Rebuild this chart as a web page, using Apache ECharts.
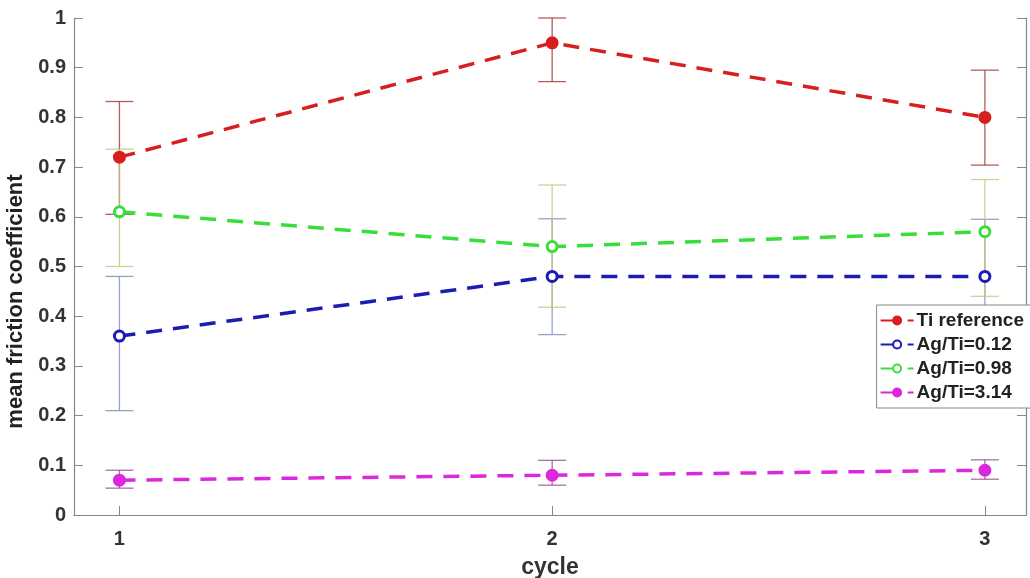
<!DOCTYPE html>
<html><head><meta charset="utf-8">
<script src="https://cdn.jsdelivr.net/npm/echarts@6/dist/echarts.min.js"></script>
<style>html,body{margin:0;padding:0;background:#fff}#c{width:1030px;height:578px}</style>
</head><body><div id="c"></div>
<script>
const cycles = [1, 2, 3];
const yTicks = [0, 0.1, 0.2, 0.3, 0.4, 0.5, 0.6, 0.7, 0.8, 0.9, 1];
const seriesNames = ['Ti reference', 'Ag/Ti=0.12', 'Ag/Ti=0.98', 'Ag/Ti=3.14'];
const tiRef = [0.72, 0.95, 0.80];
const tiRefLow = [0.605, 0.872, 0.704];
const tiRefHigh = [0.832, 1.0, 0.895];
const ag012 = [0.36, 0.48, 0.48];
const ag012Low = [0.21, 0.363, 0.363];
const ag012High = [0.48, 0.596, 0.595];
const ag098 = [0.61, 0.54, 0.57];
const ag098Low = [0.50, 0.418, 0.44];
const ag098High = [0.736, 0.664, 0.675];
const ag314 = [0.07, 0.08, 0.09];
const ag314Low = [0.054, 0.06, 0.072];
const ag314High = [0.09, 0.11, 0.111];

const colors = ['#d81e1e', '#1c1cb4', '#3ade3a', '#dc28dc'];
const barColors = ['rgba(150,40,40,0.75)', 'rgba(120,140,190,0.8)', 'rgba(190,200,120,0.8)', 'rgba(150,60,140,0.75)'];
const vals = [tiRef, ag012, ag098, ag314];
const lows = [tiRefLow, ag012Low, ag098Low, ag314Low];
const highs = [tiRefHigh, ag012High, ag098High, ag314High];
const font = 'Liberation Sans, Arial, sans-serif';

const series = [];
vals.forEach((v, i) => {
  series.push({
    type: 'custom', z: 1, silent: true, clip: false,
    data: cycles.map((c, k) => [c, lows[i][k], highs[i][k]]),
    renderItem: (params, api) => {
      const lo = api.coord([api.value(0), api.value(1)]);
      const hi = api.coord([api.value(0), api.value(2)]);
      const w = 14;
      const st = { stroke: barColors[i], lineWidth: 1.3 };
      return { type: 'group', children: [
        { type: 'line', shape: { x1: lo[0], y1: lo[1], x2: hi[0], y2: hi[1] }, style: st },
        { type: 'line', shape: { x1: lo[0] - w, y1: lo[1], x2: lo[0] + w, y2: lo[1] }, style: st },
        { type: 'line', shape: { x1: hi[0] - w, y1: hi[1], x2: hi[0] + w, y2: hi[1] }, style: st }
      ]};
    }
  });
});
vals.forEach((v, i) => {
  series.push({
    name: seriesNames[i], type: 'line', z: 5,
    data: cycles.map((c, k) => [c, v[k]]),
    symbol: 'circle', symbolSize: 10,
    itemStyle: { color: (i === 0 || i === 3) ? colors[i] : '#fff', borderColor: colors[i], borderWidth: 3 },
    lineStyle: { color: colors[i], width: 3.5, type: [16, 11] }
  });
});

const chart = echarts.init(document.getElementById('c'));
chart.setOption({
  animation: false,
  backgroundColor: '#fff',
  grid: { left: 74, right: 4, top: 18, bottom: 63, outerBoundsMode: 'none', containLabel: false },
  legend: {
    data: seriesNames, orient: 'vertical', right: -2, top: 305,
    backgroundColor: '#fff', borderColor: '#888', borderWidth: 1,
    padding: [6, 8, 6, 3], itemGap: 5, itemWidth: 33, itemHeight: 10,
    textStyle: { fontFamily: font, fontWeight: 'bold', fontSize: 19, color: '#222', padding: [0, 0, 0, -2] }
  },
  xAxis: [{
    type: 'value', min: 0.895, max: 3.095,
    name: 'cycle', nameLocation: 'middle', nameGap: 41,
    nameTextStyle: { fontFamily: font, fontWeight: 'bold', fontSize: 23, color: '#333' },
    axisLine: { lineStyle: { color: '#888', width: 1.2 } },
    axisTick: { inside: true, length: 9, customValues: cycles, lineStyle: { color: '#888' } },
    axisLabel: { customValues: cycles, margin: 14, fontFamily: font, fontWeight: 'bold', fontSize: 20, color: '#333' },
    splitLine: { show: false }
  }, {
    type: 'value', min: 0.895, max: 3.095, position: 'top',
    axisLine: { show: true, lineStyle: { color: '#888', width: 1.2 } },
    axisTick: { show: false }, axisLabel: { show: false }, splitLine: { show: false }
  }],
  yAxis: [{
    type: 'value', min: 0, max: 1, interval: 0.1,
    name: 'mean friction coefficient', nameLocation: 'middle', nameGap: 38,
    nameTextStyle: { fontFamily: font, fontWeight: 'bold', fontSize: 22, color: '#222', padding: [0, 70, 0, 0] },
    axisLine: { show: true, lineStyle: { color: '#888', width: 1.2 } },
    axisTick: { inside: true, length: 9, lineStyle: { color: '#888' } },
    axisLabel: { margin: 8, fontFamily: font, fontWeight: 'bold', fontSize: 20, color: '#333',
      formatter: v => String(Math.round(v * 10) / 10) },
    splitLine: { show: false }
  }, {
    type: 'value', min: 0, max: 1, interval: 0.1, position: 'right',
    axisLine: { show: true, lineStyle: { color: '#888', width: 1.2 } },
    axisTick: { inside: true, length: 9, lineStyle: { color: '#888' } },
    axisLabel: { show: false }, splitLine: { show: false }
  }],
  series: series
});
</script></body></html>
